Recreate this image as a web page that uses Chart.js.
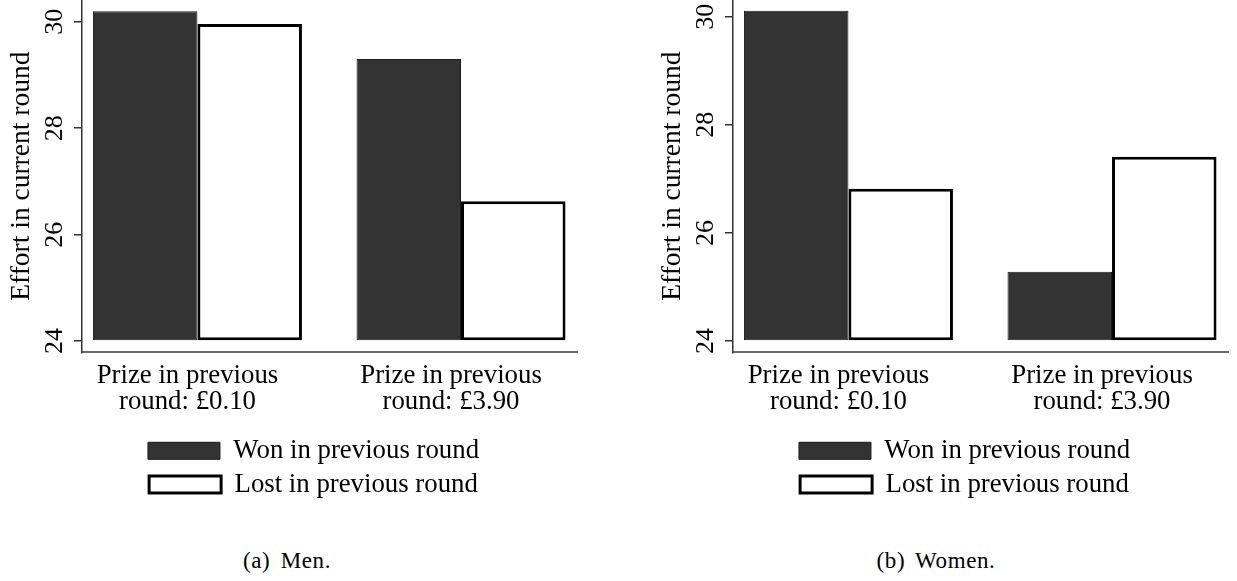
<!DOCTYPE html>
<html>
<head>
<meta charset="utf-8">
<script src="https://cdn.jsdelivr.net/npm/chart.js@4/dist/chart.umd.min.js"></script>
<style>
  body { margin: 0; background: #fff; width: 1237px; height: 581px; overflow: hidden; position: relative; }
  .panel { position: absolute; top: 0; }
  .caption {
    position: absolute; top: 549px; width: 300px; text-align: center;
    font-family: "Liberation Serif", "Times New Roman", serif; font-size: 23px;
    line-height: 23px; letter-spacing: 0.6px; word-spacing: 4px; color: #000;
  }
</style>
</head>
<body>
<div class="panel" style="left:0px"><canvas id="men" width="627" height="508"></canvas></div>
<div class="panel" style="left:651px"><canvas id="women" width="627" height="508"></canvas></div>
<div class="caption" id="capMen" style="left:137px"></div>
<div class="caption" id="capWomen" style="left:786px"></div>
<script>
// categories (two lines each) and series names
const categories = [['Prize in previous', 'round: £0.10'], ['Prize in previous', 'round: £3.90']];
const seriesNames = ['Won in previous round', 'Lost in previous round'];

// effort values
const menWon = [30.20, 29.30];
const menLost = [29.96, 26.63];
const womenWon = [30.11, 25.28];
const womenLost = [26.82, 27.41];

const yTicks = [24, 26, 28, 30];
const yTitle = 'Effort in current round';
const captions = ['(a) Men.', '(b) Women.'];

Chart.defaults.font.family = '"Liberation Serif", "Times New Roman", serif';
Chart.defaults.font.size = 26.8;
Chart.defaults.color = '#000';

function makeChart(id, won, lost, yMin, yMax) {
    const toPoints = vals => vals.map((v, i) => ({ x: i, y: v }));

    return new Chart(document.getElementById(id), {
        type: 'bar',
        data: {
            datasets: [{
                label: seriesNames[0],
                data: toPoints(won),
                base: 24,
                backgroundColor: '#333333',
                borderColor: '#1c1c1c',
                borderWidth: 1,
                borderSkipped: false,
                categoryPercentage: 0.793,
                barPercentage: 1
            }, {
                label: seriesNames[1],
                data: toPoints(lost),
                base: 24,
                backgroundColor: '#ffffff',
                borderColor: '#000000',
                borderWidth: 3,
                borderSkipped: false,
                categoryPercentage: 0.793,
                barPercentage: 1
            }]
        },
        options: {
            responsive: false,
            animation: false,
            layout: { padding: 0 },
            plugins: {
                tooltip: { enabled: false },
                legend: {
                    position: 'bottom',
                    labels: { boxWidth: 72, boxHeight: 17, padding: 7, font: { size: 26.8 } }
                }
            },
            scales: {
                x: {
                    type: 'linear',
                    min: -0.438,
                    max: 1.440,
                    offset: false,
                    grid: { display: false },
                    border: { display: true, color: '#6b6b6b', width: 2 },
                    ticks: {
                        autoSkip: false,
                        maxRotation: 0,
                        padding: 3,
                        labelOffset: -10,
                        font: { size: 26.8, lineHeight: '26px' },
                        callback: (value, index) => categories[index]
                    },
                    afterBuildTicks: scale => { scale.ticks = categories.map((c, i) => ({ value: i })); },
                    afterFit: scale => { scale.height = 78; scale.paddingLeft = 0; scale.paddingRight = 0; }
                },
                y: {
                    min: yMin,
                    max: yMax,
                    beginAtZero: false,
                    grid: { drawOnChartArea: false, color: '#333', lineWidth: 1.5, tickLength: 8 },
                    border: { display: true, color: '#333', width: 1.5 },
                    ticks: { autoSkip: false, minRotation: 90, maxRotation: 90, crossAlign: 'center', padding: 6, font: { size: 26 } },
                    afterBuildTicks: scale => { scale.ticks = yTicks.map(v => ({ value: v })); },
                    afterFit: scale => { scale.width = 82; scale.paddingTop = 0; scale.paddingBottom = 0; },
                    title: { display: true, text: yTitle, padding: { top: 5, bottom: 0 }, font: { size: 27.5 } }
                },
                // empty right-hand box so the legend centres like the original
                pad: {
                    position: 'right',
                    grid: { display: false },
                    border: { display: false },
                    ticks: { display: false },
                    afterFit: scale => { scale.width = 50; }
                }
            }
        }
    });
}

makeChart('men', menWon, menLost, 23.787, 30.41);
makeChart('women', womenWon, womenLost, 23.79, 30.31);

document.getElementById('capMen').textContent = captions[0];
document.getElementById('capWomen').textContent = captions[1];
</script>
</body>
</html>
